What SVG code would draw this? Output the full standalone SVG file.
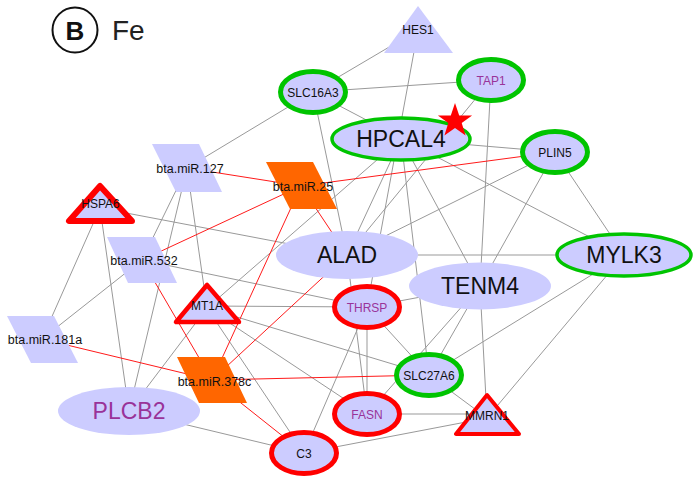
<svg xmlns="http://www.w3.org/2000/svg" width="693" height="477" viewBox="0 0 693 477">
<style>
.e{stroke:#999;stroke-width:1;fill:none}
.r{stroke:#ff1a1a;stroke-width:1;fill:none}
.lav{fill:#ccccff}
.or{fill:#ff6600}
.gb{stroke:#00c400;stroke-width:5}
.gt{stroke:#00c400;stroke-width:3.5}
.rb{stroke:#ff0000;stroke-width:5;stroke-linejoin:round}
.t{font-family:"Liberation Sans",Arial,sans-serif;text-anchor:middle;fill:#111}
.s{font-size:12px}
.m{font-size:12.5px}
.b{font-size:23px}
.p{fill:#993399}
</style>
<g id="legend">
<circle cx="75" cy="30" r="22.5" fill="none" stroke="#111" stroke-width="2"/>
<text x="75" y="39.5" class="t" style="font-size:26px;font-weight:bold">B</text>
<text x="112" y="40" style="font-family:'Liberation Sans',Arial,sans-serif;font-size:28px;fill:#222">Fe</text>
</g>
<g id="edges">
<line class="e" x1="418" y1="30" x2="313" y2="92"/>
<line class="e" x1="418" y1="30" x2="367" y2="307"/>
<line class="e" x1="313" y1="92" x2="491" y2="80"/>
<line class="e" x1="313" y1="92" x2="624" y2="255"/>
<line class="e" x1="313" y1="92" x2="347" y2="255"/>
<line class="e" x1="313" y1="92" x2="187" y2="168"/>
<line class="e" x1="491" y1="80" x2="347" y2="255"/>
<line class="e" x1="491" y1="80" x2="480" y2="286"/>
<line class="e" x1="401" y1="139" x2="555" y2="152"/>
<line class="e" x1="401" y1="139" x2="347" y2="255"/>
<line class="e" x1="401" y1="139" x2="480" y2="286"/>
<line class="e" x1="401" y1="139" x2="429" y2="375"/>
<line class="e" x1="401" y1="139" x2="207" y2="308"/>
<line class="e" x1="555" y1="152" x2="347" y2="255"/>
<line class="e" x1="555" y1="152" x2="480" y2="286"/>
<line class="e" x1="555" y1="152" x2="624" y2="255"/>
<line class="e" x1="624" y1="255" x2="347" y2="255"/>
<line class="e" x1="624" y1="255" x2="429" y2="375"/>
<line class="e" x1="624" y1="255" x2="487" y2="418"/>
<line class="e" x1="480" y1="286" x2="487" y2="418"/>
<line class="e" x1="480" y1="286" x2="429" y2="375"/>
<line class="e" x1="480" y1="286" x2="367" y2="414"/>
<line class="e" x1="480" y1="286" x2="367" y2="307"/>
<line class="e" x1="347" y1="255" x2="100" y2="208"/>
<line class="e" x1="347" y1="255" x2="367" y2="414"/>
<line class="e" x1="367" y1="307" x2="207" y2="306"/>
<line class="e" x1="367" y1="307" x2="142" y2="260"/>
<line class="e" x1="367" y1="307" x2="429" y2="375"/>
<line class="e" x1="367" y1="307" x2="367" y2="414"/>
<line class="e" x1="367" y1="307" x2="304" y2="453"/>
<line class="e" x1="207" y1="308" x2="429" y2="375"/>
<line class="e" x1="207" y1="308" x2="367" y2="414"/>
<line class="e" x1="207" y1="308" x2="304" y2="453"/>
<line class="e" x1="207" y1="308" x2="129" y2="411"/>
<line class="e" x1="207" y1="308" x2="187" y2="168"/>
<line class="e" x1="187" y1="168" x2="142" y2="260"/>
<line class="e" x1="187" y1="168" x2="129" y2="411"/>
<line class="e" x1="142" y1="260" x2="42" y2="339"/>
<line class="e" x1="100" y1="208" x2="42" y2="339"/>
<line class="e" x1="100" y1="208" x2="129" y2="411"/>
<line class="e" x1="129" y1="411" x2="304" y2="453"/>
<line class="e" x1="304" y1="453" x2="487" y2="418"/>
<line class="e" x1="367" y1="414" x2="487" y2="414"/>
<line class="e" x1="429" y1="375" x2="487" y2="418"/>
<line class="r" x1="187" y1="168" x2="301" y2="186"/>
<line class="r" x1="301" y1="186" x2="555" y2="152"/>
<line class="r" x1="301" y1="186" x2="142" y2="260"/>
<line class="r" x1="301" y1="186" x2="347" y2="255"/>
<line class="r" x1="301" y1="186" x2="212" y2="380"/>
<line class="r" x1="212" y1="380" x2="429" y2="375"/>
<line class="r" x1="212" y1="380" x2="42" y2="339"/>
<line class="r" x1="212" y1="380" x2="304" y2="453"/>
<line class="r" x1="212" y1="380" x2="347" y2="255"/>
<line class="r" x1="212" y1="380" x2="142" y2="260"/>
</g>
<g id="HES1"><polygon class="lav" points="418,6 384,53 453,53"/><text class="t s" x="418" y="34">HES1</text></g>
<g id="SLC16A3"><ellipse class="lav gb" cx="313" cy="92" rx="32.5" ry="20.5"/><text class="t s" x="313" y="96.5">SLC16A3</text></g>
<g id="TAP1"><ellipse class="lav gb" cx="491" cy="80" rx="32.5" ry="20.5"/><text class="t s p" x="491" y="84.5">TAP1</text></g>
<g id="HPCAL4"><ellipse class="lav gt" cx="401" cy="139" rx="69" ry="21"/><text class="t b" x="401" y="147">HPCAL4</text></g>
<g id="PLIN5"><ellipse class="lav gb" cx="555" cy="152" rx="32.5" ry="20.5"/><text class="t s" x="555" y="156.5">PLIN5</text></g>
<g id="MYLK3"><ellipse class="lav gt" cx="624" cy="255" rx="67" ry="21"/><text class="t b" x="624" y="263">MYLK3</text></g>
<g id="TENM4"><ellipse class="lav" cx="480" cy="286" rx="71" ry="23.5"/><text class="t b" x="480" y="294">TENM4</text></g>
<g id="ALAD"><ellipse class="lav" cx="347" cy="255" rx="71" ry="24"/><text class="t b" x="347" y="263">ALAD</text></g>
<g id="THRSP"><ellipse class="lav rb" cx="367" cy="307" rx="32.5" ry="20.5"/><text class="t s p" x="367" y="311.5">THRSP</text></g>
<g id="SLC27A6"><ellipse class="lav gb" cx="429" cy="375" rx="32.5" ry="20.5"/><text class="t s" x="429" y="379.5">SLC27A6</text></g>
<g id="FASN"><ellipse class="lav rb" cx="367" cy="414" rx="32.5" ry="20.5"/><text class="t s p" x="367" y="418.5">FASN</text></g>
<g id="C3"><ellipse class="lav rb" cx="304" cy="453" rx="32.5" ry="20.5"/><text class="t s" x="304" y="457.5">C3</text></g>
<g id="MMRN1"><polygon class="lav rb" style="stroke-width:4" points="487,395 456,434 519,434"/><text class="t s" x="487" y="419.5">MMRN1</text></g>
<g id="PLCB2"><ellipse class="lav" cx="129" cy="411" rx="71" ry="24"/><text class="t b p" x="129" y="419">PLCB2</text></g>
<g id="HSPA6"><polygon class="lav rb" style="stroke-width:6" points="100,186 69,221 132,221"/><text class="t s" x="100.5" y="207.5">HSPA6</text></g>
<g id="MT1A"><polygon class="lav rb" style="stroke-width:4.5" points="207,285 176,322 239,322"/><text class="t s" x="207" y="309.5">MT1A</text></g>
<g id="miR181a"><polygon class="lav" points="7,316 54,316 78,363 31,363"/><text class="t m" x="45" y="343.5">bta.miR.181a</text></g>
<g id="miR532"><polygon class="lav" points="107,237 155,237 177,283 128,283"/><text class="t m" x="144" y="264.5">bta.miR.532</text></g>
<g id="miR127"><polygon class="lav" points="152,144 199,144 222,192 176,192"/><text class="t m" x="190" y="172.5">bta.miR.127</text></g>
<g id="miR25"><polygon class="or" points="266,162 313,162 337,209 290,209"/><text class="t m" x="303" y="190.5">bta.miR.25</text></g>
<g id="miR378c"><polygon class="or" points="177,357 225,357 247,403 199,403"/><text class="t m" x="214.5" y="385.5">bta.miR.378c</text></g>
<g id="star"><polygon fill="#ff0000" points="455,103 459.2,115.4 472.1,115.4 461.7,123.1 465.6,135.6 455,128 444.4,135.6 448.3,123.1 437.9,115.4 450.8,115.4"/></g>
</svg>
